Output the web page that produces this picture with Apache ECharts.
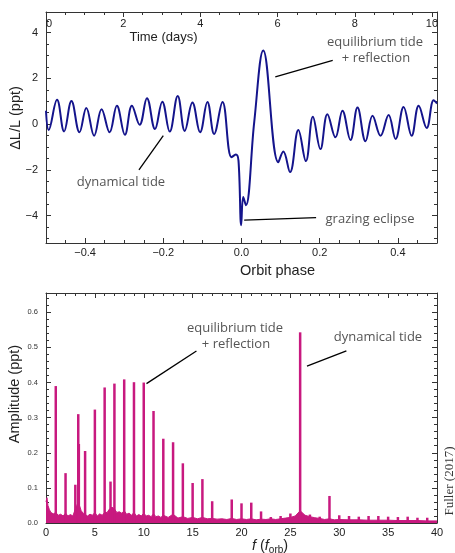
<!DOCTYPE html>
<html><head><meta charset="utf-8">
<script src="https://cdn.jsdelivr.net/npm/echarts@6/dist/echarts.min.js"></script>
<style>html,body{margin:0;padding:0;background:#fff}#c{width:455px;height:553px}</style>
</head><body><div id="c"></div>
<script>
// ---- Top panel: light curve vs orbital phase ----
const lcPhase = [-0.5, -0.4931, -0.4718, -0.4538, -0.4349, -0.4144, -0.3969, -0.3769, -0.3579, -0.3374,
  -0.3187, -0.2982, -0.2803, -0.2605, -0.2418, -0.2213, -0.2026, -0.1836, -0.1631, -0.1451,
  -0.1256, -0.1059, -0.0872, -0.0700, -0.0487, -0.0256, -0.0144, -0.0077, -0.0008, 0.0044,
  0.0113, 0.0326, 0.0556, 0.0941, 0.1069, 0.1241, 0.1454, 0.1646, 0.1826, 0.2018,
  0.2197, 0.2403, 0.2582, 0.2787, 0.2967, 0.3172, 0.3351, 0.3556, 0.3762, 0.3941,
  0.4146, 0.4351, 0.4531, 0.4736, 0.4915, 0.5];
const lcFlux = [0.58, -0.26, 1.06, -0.32, 1.01, -0.36, 0.70, -0.51, 0.65, -0.36,
  0.80, -0.47, 0.80, -0.03, 1.13, -0.22, 0.98, -0.33, 1.23, -0.30,
  0.94, -0.36, 0.97, -0.43, 0.97, -1.45, -1.33, -1.6, -4.42, -3.19,
  -3.55, 0.1, 3.22, -1.67, -1.2, -2.1, -0.26, -1.62, 0.32, -1.09,
  0.43, -0.58, 0.58, -0.7, 0.72, -0.75, 0.36, -0.51, 0.4, -0.65,
  0.75, -0.51, 0.8, -0.17, 1.04, 0.9];
const phaseTicks = [-0.4, -0.2, 0, 0.2, 0.4];
const phaseMinor = [-0.45,-0.4,-0.35,-0.3,-0.25,-0.2,-0.15,-0.1,-0.05,0,0.05,0.1,0.15,0.2,0.25,0.3,0.35,0.4,0.45];
const fluxTicks = [-4, -2, 0, 2, 4];
const fluxMinor = [-5,-4.5,-4,-3.5,-3,-2.5,-2,-1.5,-1,-0.5,0,0.5,1,1.5,2,2.5,3,3.5,4,4.5];

// ---- Bottom panel: amplitude spectrum ----
const peakFreq = [1, 2, 3, 3.3, 3.36, 4, 5, 6, 6.6, 7, 8, 9, 10, 11, 12, 13, 14, 15, 16, 17,
  19, 20, 21, 22, 23, 24, 25, 26, 27, 28, 29, 30, 31, 32, 33, 34, 35, 36, 37, 38, 39];
const peakAmp = [0.39, 0.142, 0.109, 0.31, 0.225, 0.205, 0.323, 0.386, 0.118, 0.397, 0.409, 0.401, 0.40, 0.319, 0.24, 0.23, 0.17, 0.114, 0.125, 0.062,
  0.067, 0.056, 0.058, 0.033, 0.017, 0.02, 0.027, 0.543, 0.024, 0.018, 0.077, 0.022, 0.02, 0.018, 0.02, 0.02, 0.018, 0.017, 0.018, 0.015, 0.015];
const noiseFreq = [0, 0.1, 0.2, 0.35, 0.5, 0.75, 1.0, 1.25, 1.5, 1.75, 2.0, 2.25, 2.5, 2.75, 3.0, 3.15, 3.3, 3.45, 3.6, 3.8,
  4.0, 4.25, 4.5, 4.75, 5.0, 5.25, 5.5, 5.75, 6.0, 6.25, 6.5, 6.75, 7.0, 7.25, 7.5, 7.75, 8.0, 8.25, 8.5, 8.75,
  9.0, 9.25, 9.5, 9.75, 10.0, 10.25, 10.5, 10.75, 11.0, 11.25, 11.5, 11.75, 12.0, 12.5, 13.0, 13.5, 14.0, 14.5, 15.0, 15.5,
  16.0, 16.5, 17.0, 17.5, 18.0, 18.5, 19.0, 19.5, 20.0, 20.5, 21.0, 21.5, 22.0, 22.5, 23.0, 23.5, 24.0, 24.5, 25.0, 25.5,
  26.0, 26.5, 27.0, 27.5, 28.0, 28.5, 29.0, 29.5, 30, 31, 32, 33, 34, 35, 36, 37, 38, 39, 40];
const noiseAmp = [0.06, 0.072, 0.05, 0.038, 0.03, 0.026, 0.03, 0.022, 0.025, 0.02, 0.028, 0.02, 0.024, 0.02, 0.04, 0.05, 0.06, 0.055, 0.035, 0.028,
  0.03, 0.02, 0.025, 0.022, 0.03, 0.02, 0.026, 0.022, 0.03, 0.03, 0.04, 0.045, 0.04, 0.03, 0.032, 0.028, 0.035, 0.025, 0.028, 0.022,
  0.03, 0.02, 0.024, 0.02, 0.028, 0.02, 0.022, 0.018, 0.026, 0.018, 0.02, 0.016, 0.022, 0.016, 0.025, 0.014, 0.018, 0.013, 0.016, 0.012,
  0.016, 0.012, 0.013, 0.011, 0.012, 0.01, 0.013, 0.01, 0.012, 0.01, 0.012, 0.009, 0.011, 0.01, 0.012, 0.01, 0.012, 0.014, 0.016, 0.02,
  0.035, 0.022, 0.018, 0.015, 0.013, 0.01, 0.012, 0.009, 0.01, 0.009, 0.009, 0.008, 0.008, 0.008, 0.007, 0.007, 0.007, 0.006, 0.006];

const NAVY = '#14148c', MAG = '#c8197f', FR = '#333';
const TF = '"Liberation Sans", Arial, sans-serif';
const AF = '"Open Sans", sans-serif';
const minus = s => String(s).replace('-', '\u2212');
const frame = {show: true, onZero: false, lineStyle: {color: FR, width: 1}};
const noLine = {show: false, onZero: false};
const tk = (len, extra) => Object.assign({show: true, inside: true, length: len, lineStyle: {color: FR, width: 1}}, extra || {});
const mtk = (n) => ({show: true, splitNumber: n, length: 3, lineStyle: {color: FR, width: 1}});
const noSplit = {show: false};

const lcData = lcPhase.map((p, i) => [p, lcFlux[i]]);
const peakData = peakFreq.map((f, i) => [f, peakAmp[i]]);
const noiseData = noiseFreq.map((f, i) => [f, noiseAmp[i]]);

const chart = echarts.init(document.getElementById('c'), null, {renderer: 'canvas'});

function txt(x, y, text, font, fill, rot) {
  return {type: 'text', x: x, y: y, rotation: rot || 0, silent: true,
    style: {text: text, font: font, fill: fill, textAlign: 'center', textVerticalAlign: 'middle', align: 'center', verticalAlign: 'middle'}};
}
const annFont = 'normal 13px ' + AF;
const ttlFont = 'normal 14.5px ' + TF;

const option = {
  animation: false,
  grid: [
    {left: 46, top: 12, width: 391, height: 231},
    {left: 46, top: 293, width: 391, height: 230}
  ],
  xAxis: [
    {type: 'value', gridIndex: 0, position: 'bottom', min: -0.5, max: 0.5, axisLine: frame, splitLine: noSplit,
      axisTick: tk(5, {customValues: phaseTicks}),
      axisLabel: {customValues: phaseTicks, margin: 4, fontSize: 11, color: '#222', fontFamily: TF, formatter: v => minus(v.toFixed(1))}},
    {type: 'value', gridIndex: 0, position: 'bottom', min: -0.5, max: 0.5, axisLine: noLine, splitLine: noSplit,
      axisTick: tk(3, {customValues: phaseMinor}), axisLabel: {show: false}},
    {type: 'value', gridIndex: 0, position: 'top', min: 0, max: 10.13, interval: 2, axisLine: frame, splitLine: noSplit,
      axisTick: tk(5), minorTick: mtk(4),
      axisLabel: {inside: true, margin: 6, fontSize: 11, color: '#222', fontFamily: TF, alignMinLabel: 'left',
        formatter: v => (Math.abs(v - Math.round(v)) < 1e-6 ? String(Math.round(v)) : '')}},
    {type: 'value', gridIndex: 1, position: 'bottom', min: 0, max: 40, interval: 5, axisLine: frame, splitLine: noSplit,
      axisTick: tk(5), minorTick: mtk(5),
      axisLabel: {margin: 4, fontSize: 11, color: '#222', fontFamily: TF}},
    {type: 'value', gridIndex: 1, position: 'top', min: 0, max: 40, interval: 5, axisLine: frame, splitLine: noSplit,
      axisTick: tk(5), minorTick: mtk(5), axisLabel: {show: false}}
  ],
  yAxis: [
    {type: 'value', gridIndex: 0, position: 'left', min: -5.2, max: 4.9, axisLine: frame, splitLine: noSplit,
      axisTick: tk(5, {customValues: fluxTicks}),
      axisLabel: {customValues: fluxTicks, margin: 8, fontSize: 11, color: '#222', fontFamily: TF, formatter: v => minus(v)}},
    {type: 'value', gridIndex: 0, position: 'left', min: -5.2, max: 4.9, axisLine: noLine, splitLine: noSplit,
      axisTick: tk(3, {customValues: fluxMinor}), axisLabel: {show: false}},
    {type: 'value', gridIndex: 0, position: 'right', min: -5.2, max: 4.9, axisLine: frame, splitLine: noSplit,
      axisTick: tk(5, {customValues: fluxTicks}), axisLabel: {show: false}},
    {type: 'value', gridIndex: 0, position: 'right', min: -5.2, max: 4.9, axisLine: noLine, splitLine: noSplit,
      axisTick: tk(3, {customValues: fluxMinor}), axisLabel: {show: false}},
    {type: 'value', gridIndex: 1, position: 'left', min: 0, max: 0.655, interval: 0.1, axisLine: frame, splitLine: noSplit,
      axisTick: tk(5), minorTick: mtk(5),
      axisLabel: {margin: 8, fontSize: 7.5, color: '#333', fontFamily: TF, showMaxLabel: false, formatter: v => v.toFixed(1)}},
    {type: 'value', gridIndex: 1, position: 'right', min: 0, max: 0.655, interval: 0.1, axisLine: frame, splitLine: noSplit,
      axisTick: tk(5), minorTick: mtk(5), axisLabel: {show: false}}
  ],
  series: [
    {type: 'line', name: 'light curve', xAxisIndex: 0, yAxisIndex: 0, data: lcData, symbol: 'none', smooth: 0.4,
      lineStyle: {color: NAVY, width: 2}, z: 3,
      markLine: {silent: true, symbol: ['none', 'none'], label: {show: false}, animation: false,
        lineStyle: {color: '#000', width: 1.3, type: 'solid'},
        data: [
          [{coord: [0.2333, 2.78]}, {coord: [0.0864, 2.06]}],
          [{coord: [-0.2623, -2.0]}, {coord: [-0.2, -0.51]}],
          [{coord: [0.0069, -4.2]}, {coord: [0.1908, -4.09]}]
        ]}},
    {type: 'line', name: 'noise', xAxisIndex: 3, yAxisIndex: 4, data: noiseData, symbol: 'none',
      lineStyle: {color: MAG, width: 1}, areaStyle: {color: MAG, opacity: 1}, z: 2},
    {type: 'bar', name: 'harmonics', xAxisIndex: 3, yAxisIndex: 4, data: peakData, barWidth: 2.5,
      itemStyle: {color: MAG}, z: 3,
      markLine: {silent: true, symbol: ['none', 'none'], label: {show: false}, animation: false,
        lineStyle: {color: '#000', width: 1.3, type: 'solid'},
        data: [
          [{coord: [15.39, 0.49]}, {coord: [10.28, 0.397]}],
          [{coord: [30.73, 0.49]}, {coord: [26.7, 0.447]}]
        ]}}
  ],
  graphic: [
    txt(375, 42, 'equilibrium tide', annFont, '#555'),
    txt(376, 58, '+ reflection', annFont, '#555'),
    txt(121, 182, 'dynamical tide', annFont, '#555'),
    txt(370, 219, 'grazing eclipse', annFont, '#555'),
    txt(235, 328, 'equilibrium tide', annFont, '#555'),
    txt(236, 344, '+ reflection', annFont, '#555'),
    txt(378, 337, 'dynamical tide', annFont, '#555'),
    txt(163.5, 37, 'Time (days)', 'normal 13px ' + TF, '#222'),
    txt(277.5, 271, 'Orbit phase', ttlFont, '#222'),
    txt(16, 118, '\u0394L/L (ppt)', ttlFont, '#222', Math.PI / 2),
    txt(15, 394, 'Amplitude (ppt)', ttlFont, '#222', Math.PI / 2),
    txt(450, 481, 'Fuller (2017)', 'normal 13px "Liberation Serif", serif', '#333', Math.PI / 2),
    {type: 'text', x: 270, y: 546, silent: true,
      style: {text: '{i|f} ({i|f}{s|orb})', font: ttlFont, fill: '#222', textAlign: 'center', textVerticalAlign: 'middle', align: 'center', verticalAlign: 'middle',
        rich: {i: {fontStyle: 'italic', fontSize: 14.5, fontFamily: TF, fill: '#222'},
               s: {fontSize: 10, fontFamily: TF, fill: '#222', padding: [8, 0, 0, 0]}}}}
  ]
};
chart.setOption(option);
</script>
</body></html>
